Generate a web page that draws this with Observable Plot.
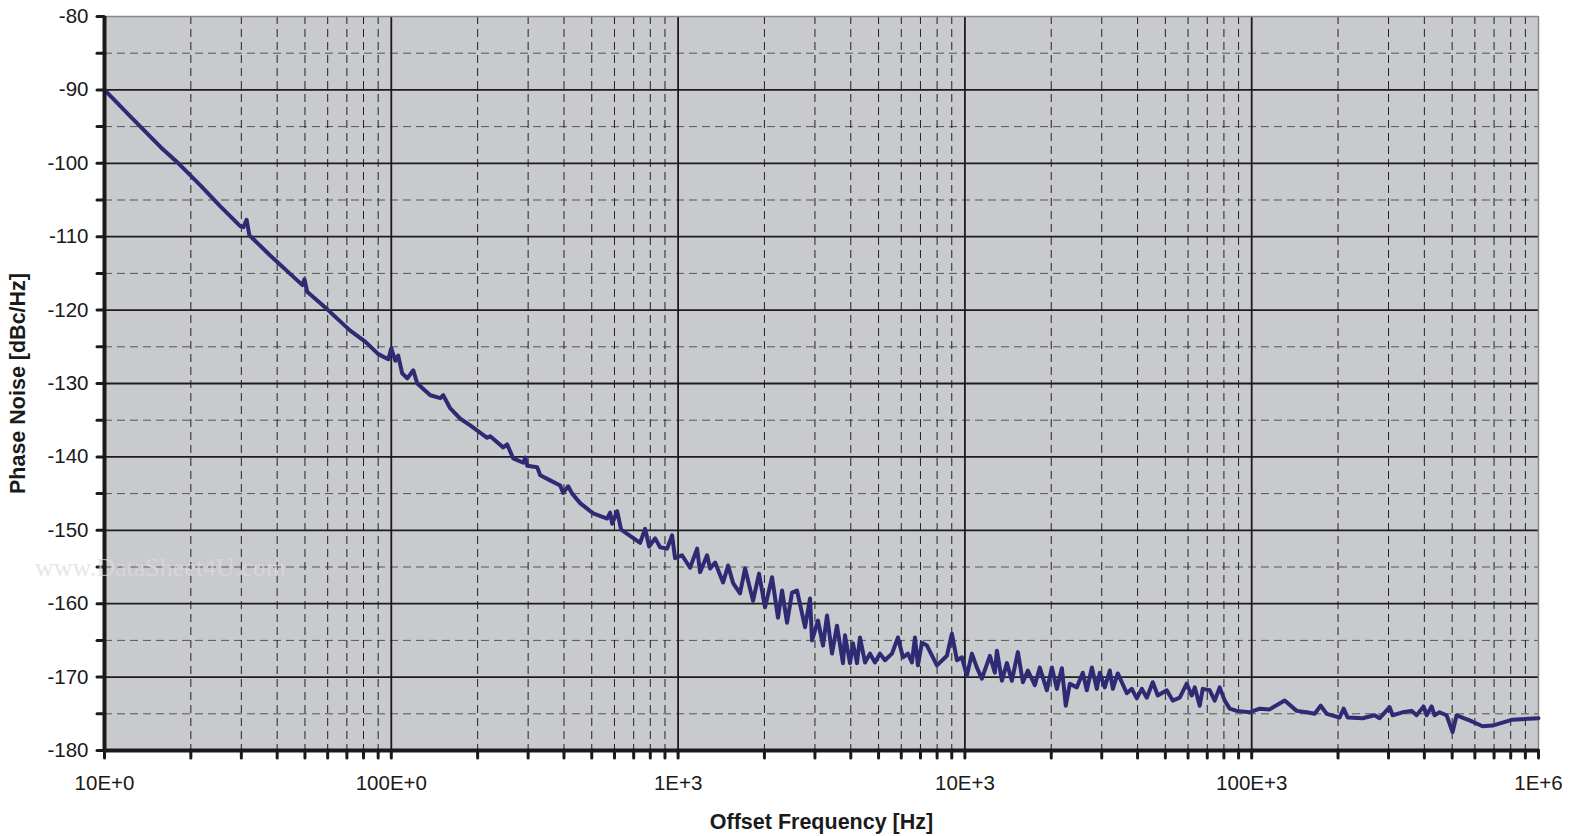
<!DOCTYPE html>
<html>
<head>
<meta charset="utf-8">
<script src="https://cdn.jsdelivr.net/npm/d3@7"></script>
<script src="https://cdn.jsdelivr.net/npm/@observablehq/plot@0.6"></script>
<style>
  html, body { margin: 0; padding: 0; background: #ffffff; }
  #wrap { position: relative; width: 1570px; height: 836px; }
  #watermark {
    position: absolute; left: 35px; top: 553px;
    font-family: "Liberation Serif", "DejaVu Serif", serif; font-size: 26px;
    color: #dcdcdc; opacity: 0.7; pointer-events: none; white-space: nowrap;
  }
</style>
</head>
<body>
<div id="wrap"><div id="watermark">www.DataSheet4U.com</div></div>
<script>
// Offset frequency (Hz) and phase noise (dBc/Hz)
const freq = [
  10, 12.3, 15.7, 18.1, 21.6, 25.4, 29.8, 30.5, 31.3, 32.0,
  37.9, 44.5, 49.0, 49.8, 50.9, 59.8, 71.9, 81.1, 90.1, 97.6,
  100, 103.3, 105.7, 109.1, 113.7, 119.3, 123.2, 136.8, 148.2, 151.7,
  160.6, 174.0, 188.5, 216.0, 221.3, 245.6, 253.6, 266.1, 288.4, 293.1,
  297.8, 322.7, 330.6, 358.1, 388.0, 397.5, 413.8, 427.2, 455.4, 505.5,
  565.6, 579.4, 588.8, 613.0, 633.0, 737.3, 767.4, 792.5, 831.6, 865.7,
  915.6, 953.0, 976.2, 1032, 1101, 1165, 1193, 1262, 1293, 1346,
  1435, 1494, 1555, 1644, 1712, 1825, 1915, 2010, 2126, 2230,
  2304, 2398, 2496, 2598, 2771, 2884, 2931, 3075, 3201, 3306,
  3440, 3581, 3757, 3818, 3975, 4072, 4205, 4307, 4484, 4667,
  4858, 5055, 5264, 5567, 5843, 6081, 6330, 6536, 6696, 6858,
  7083, 7373, 7989, 8656, 9010, 9378, 9761, 10160, 10578, 11010,
  11460, 12220, 12720, 12930, 13460, 14010, 14580, 15300, 15930, 16580,
  17530, 18250, 19310, 20100, 20930, 21780, 22480, 23220, 24560, 25770,
  26610, 27710, 28840, 29540, 30740, 32010, 32790, 34130, 36690, 38190,
  39750, 41380, 43070, 45190, 47050, 50550, 53050, 56130, 59350, 61780,
  63300, 65880, 67490, 71390, 74310, 77340, 80520, 83810, 88650, 98400,
  106600, 115500, 130300, 143500, 155500, 165800, 174000, 182500, 202600, 209200,
  216000, 243700, 268300, 279300, 302600, 310000, 335800, 360900, 375700, 397500,
  407200, 423900, 434200, 452000, 478000, 501700, 518100, 575000, 638100, 691500,
  749200, 811700, 1000000
];
const phaseNoise = [
  -90.0, -93.6, -97.8, -100.0, -103.0, -105.9, -108.6, -108.7, -107.7, -109.8,
  -112.6, -115.1, -116.6, -115.8, -117.5, -119.9, -122.8, -124.3, -126.0, -126.7,
  -125.2, -126.9, -126.2, -128.6, -129.3, -128.2, -130.0, -131.6, -132.0, -131.6,
  -133.4, -134.8, -135.7, -137.4, -137.2, -138.7, -138.3, -140.2, -140.8, -140.1,
  -141.2, -141.4, -142.5, -143.2, -143.9, -144.9, -144.0, -145.0, -146.3, -147.7,
  -148.4, -147.6, -149.1, -147.4, -149.9, -151.7, -149.8, -152.2, -151.1, -152.3,
  -152.5, -150.7, -153.8, -153.4, -155.1, -152.5, -155.7, -153.4, -155.2, -154.4,
  -157.1, -154.8, -157.2, -158.6, -155.2, -159.6, -155.9, -160.5, -156.4, -161.9,
  -158.2, -162.6, -158.5, -158.2, -163.2, -159.3, -165.0, -162.3, -165.7, -161.6,
  -166.8, -163.0, -168.1, -164.3, -168.1, -165.4, -168.1, -164.6, -168.0, -166.8,
  -168.0, -166.8, -167.7, -166.8, -164.6, -167.3, -166.8, -168.0, -164.6, -168.4,
  -165.3, -165.7, -168.4, -167.1, -164.1, -167.7, -167.3, -169.8, -166.8, -168.7,
  -170.2, -167.1, -169.4, -166.4, -170.5, -168.1, -170.5, -166.6, -170.7, -169.1,
  -171.1, -168.7, -171.8, -168.7, -171.6, -168.8, -173.9, -170.9, -171.4, -169.4,
  -171.8, -168.7, -171.6, -169.4, -171.4, -169.1, -171.6, -169.5, -172.2, -171.6,
  -172.9, -171.6, -172.8, -170.7, -172.5, -171.8, -173.2, -172.8, -170.9, -172.5,
  -171.4, -173.9, -171.6, -171.8, -173.2, -171.4, -173.2, -174.3, -174.6, -174.8,
  -174.3, -174.4, -173.2, -174.6, -174.8, -175.0, -173.9, -175.0, -175.5, -174.3,
  -175.5, -175.6, -175.2, -175.6, -174.1, -175.2, -174.8, -174.6, -175.2, -174.0,
  -175.2, -174.0, -175.2, -174.8, -175.2, -177.5, -175.2, -175.9, -176.7, -176.6,
  -176.2, -175.8, -175.6
];

// Axes / grid values
const xDecades = [10, 100, 1000, 10000, 100000, 1000000];
const xDecadeLabels = ["10E+0", "100E+0", "1E+3", "10E+3", "100E+3", "1E+6"];
const xMinor = [20,30,40,50,60,70,80,90, 200,300,400,500,600,700,800,900,
  2000,3000,4000,5000,6000,7000,8000,9000, 20000,30000,40000,50000,60000,70000,80000,90000,
  200000,300000,400000,500000,600000,700000,800000,900000];
const yMajor = [-180, -170, -160, -150, -140, -130, -120, -110, -100, -90, -80];
const yMinor = [-175, -165, -155, -145, -135, -125, -115, -105, -95, -85];
const xTitle = "Offset Frequency [Hz]";
const yTitle = "Phase Noise [dBc/Hz]";

const data = freq.map((f, i) => ({f, v: phaseNoise[i]}));
const labelOf = new Map(xDecades.map((d, i) => [d, xDecadeLabels[i]]));

const chart = Plot.plot({
  width: 1570,
  height: 836,
  marginLeft: 104,
  marginRight: 32,
  marginTop: 16,
  marginBottom: 86,
  style: {fontFamily: "'Liberation Sans', Arial, sans-serif", fontSize: "20.5px", color: "#1a1a1a", background: "transparent"},
  x: {type: "log", domain: [10, 1000000]},
  y: {domain: [-180, -80]},
  marks: [
    Plot.frame({fill: "#c9cacd", stroke: null}),
    Plot.ruleY(yMinor, {stroke: "#555", strokeWidth: 1, strokeDasharray: "8,5"}),
    Plot.ruleX(xMinor, {stroke: "#222", strokeWidth: 1, strokeDasharray: "8,5"}),
    Plot.ruleY(yMajor.filter(d => d > -180 && d < -80), {stroke: "#1c1c1c", strokeWidth: 1.8}),
    Plot.ruleX(xDecades.filter(d => d > 10 && d < 1000000), {stroke: "#1c1c1c", strokeWidth: 1.8}),
    Plot.ruleY([-80], {stroke: "#888", strokeWidth: 1.5}),
    Plot.ruleX([1000000], {stroke: "#888", strokeWidth: 1.5}),
    Plot.line(data, {x: "f", y: "v", stroke: "#2e2b74", strokeWidth: 4, strokeLinejoin: "round", strokeLinecap: "round"}),
    Plot.ruleX([10], {stroke: "#1a1a1a", strokeWidth: 4}),
    Plot.ruleY([-180], {stroke: "#1a1a1a", strokeWidth: 4}),
    // y ticks and labels
    Plot.axisY([...yMajor, ...yMinor], {tickSize: 7, strokeWidth: 3, strokeLinecap: "round", stroke: "#1a1a1a", tickFormat: () => "", label: null}),
    Plot.axisY(yMajor, {tickSize: 0, tickPadding: 16, tickFormat: d => String(d), label: null, fill: "#1a1a1a"}),
    // x ticks and labels
    Plot.axisX([...xDecades, ...xMinor], {tickSize: 8, strokeWidth: 3, strokeLinecap: "round", stroke: "#1a1a1a", tickFormat: () => "", label: null}),
    Plot.axisX(xDecades, {tickSize: 0, tickPadding: 25, tickFormat: d => labelOf.get(d), label: null, fill: "#1a1a1a"}),
    // axis titles
    Plot.text([xTitle], {frameAnchor: "bottom", dy: 78, fontWeight: "bold", fontSize: 21.5, fill: "#1a1a1a"}),
    Plot.text([yTitle], {frameAnchor: "left", dx: -86, rotate: -90, textAnchor: "middle", fontWeight: "bold", fontSize: 21.5, fill: "#1a1a1a"})
  ]
});
document.getElementById("wrap").prepend(chart);
</script>
</body>
</html>
